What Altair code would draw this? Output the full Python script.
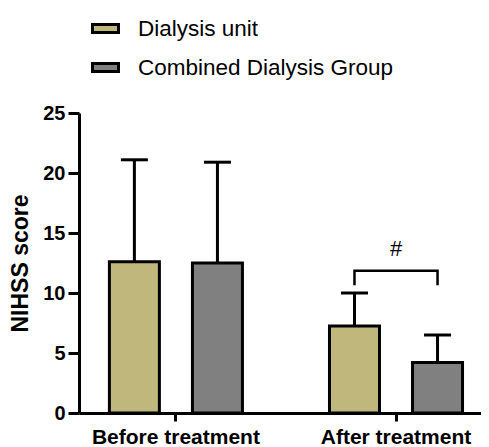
import altair as alt
import pandas as pd

timepoints = ["Before treatment", "After treatment"]
groups = ["Dialysis unit", "Combined Dialysis Group"]
means_dialysis = [12.6, 7.25]
means_combined = [12.5, 4.2]
sd_dialysis = [8.5, 2.75]
sd_combined = [8.4, 2.3]
colors = ["#BFB77C", "#808080"]
y_ticks = [0, 5, 10, 15, 20, 25]
bracket_time = "After treatment"
bracket_top = 11.85
bracket_leg = 10.65
sig_label = "#"
sig_y = 13.65

FONT = "Liberation Sans"

rows = []
for i, t in enumerate(timepoints):
    rows.append({"time": t, "group": groups[0], "mean": means_dialysis[i],
                 "upper": means_dialysis[i] + sd_dialysis[i]})
    rows.append({"time": t, "group": groups[1], "mean": means_combined[i],
                 "upper": means_combined[i] + sd_combined[i]})
df = pd.DataFrame(rows)

bracket_df = pd.DataFrame([
    {"time": bracket_time, "group": groups[0], "v": bracket_leg, "o": 0},
    {"time": bracket_time, "group": groups[0], "v": bracket_top, "o": 1},
    {"time": bracket_time, "group": groups[1], "v": bracket_top, "o": 2},
    {"time": bracket_time, "group": groups[1], "v": bracket_leg, "o": 3},
])
sig_df = pd.DataFrame([{"time": bracket_time, "v": sig_y, "label": sig_label}])

x_enc = alt.X(
    "time:N", sort=timepoints,
    scale=alt.Scale(paddingInner=0.3955, paddingOuter=0.111, align=0.622),
    axis=alt.Axis(title=None, labelAngle=0, labelFont=FONT, labelFontSize=21,
                  labelFontWeight="bold", labelColor="black", labelPadding=5,
                  tickSize=8, tickWidth=3, tickColor="black",
                  domainWidth=3, domainColor="black"),
)
xoff_enc = alt.XOffset("group:N", sort=groups,
                       scale=alt.Scale(paddingInner=0.398, paddingOuter=0))
y_scale = alt.Scale(domain=[0, 25], nice=False)
y_axis = alt.Axis(values=y_ticks, grid=False, tickSize=11, tickWidth=3,
                  tickColor="black", domainWidth=3, domainColor="black",
                  labelFont=FONT, labelFontSize=20, labelFontWeight="bold",
                  labelColor="black", labelPadding=3,
                  title="NIHSS score", titleFont=FONT, titleFontSize=23,
                  titleFontWeight="bold", titleColor="black",
                  titleX=-52, titleY=150, titleBaseline="alphabetic",
                  titleAngle=-90)

bars = alt.Chart(df).mark_bar(stroke="black", strokeWidth=3).encode(
    x=x_enc,
    xOffset=xoff_enc,
    y=alt.Y("mean:Q", scale=y_scale, axis=y_axis),
    color=alt.Color(
        "group:N", sort=groups,
        scale=alt.Scale(domain=groups, range=colors),
        legend=alt.Legend(orient="none", legendX=12, legendY=-99, title=None,
                          symbolType="M-1,-0.31H1V0.31H-1Z", symbolSize=676,
                          symbolStrokeColor="black", symbolStrokeWidth=3,
                          symbolOpacity=1, labelFont=FONT, labelFontSize=22.5,
                          labelColor="black", labelOffset=18, rowPadding=13,
                          labelLimit=0, padding=0),
    ),
)

err = alt.Chart(df).mark_rule(color="black", strokeWidth=3).encode(
    x=x_enc, xOffset=xoff_enc, y=alt.Y("mean:Q"), y2="upper:Q")

caps = alt.Chart(df).mark_tick(color="black", thickness=3, size=27, opacity=1).encode(
    x=x_enc, xOffset=xoff_enc, y=alt.Y("upper:Q"))

bracket = alt.Chart(bracket_df).mark_line(color="black", strokeWidth=2.5,
                                           strokeJoin="miter").encode(
    x=x_enc, xOffset=xoff_enc, y=alt.Y("v:Q"), order="o:Q")

sig = alt.Chart(sig_df).mark_text(font=FONT, fontSize=22, color="black",
                                  baseline="middle").encode(
    x=x_enc, y=alt.Y("v:Q"), text="label:N")

chart = alt.layer(bars, err, caps, bracket, sig).properties(
    width=402, height=300,
    padding={"left": 71, "top": 105, "right": 0, "bottom": 34},
    autosize=alt.AutoSizeParams(type="none"),
).configure_view(stroke=None)

chart.save("out.html", embed_options={"renderer": "svg", "actions": False})
